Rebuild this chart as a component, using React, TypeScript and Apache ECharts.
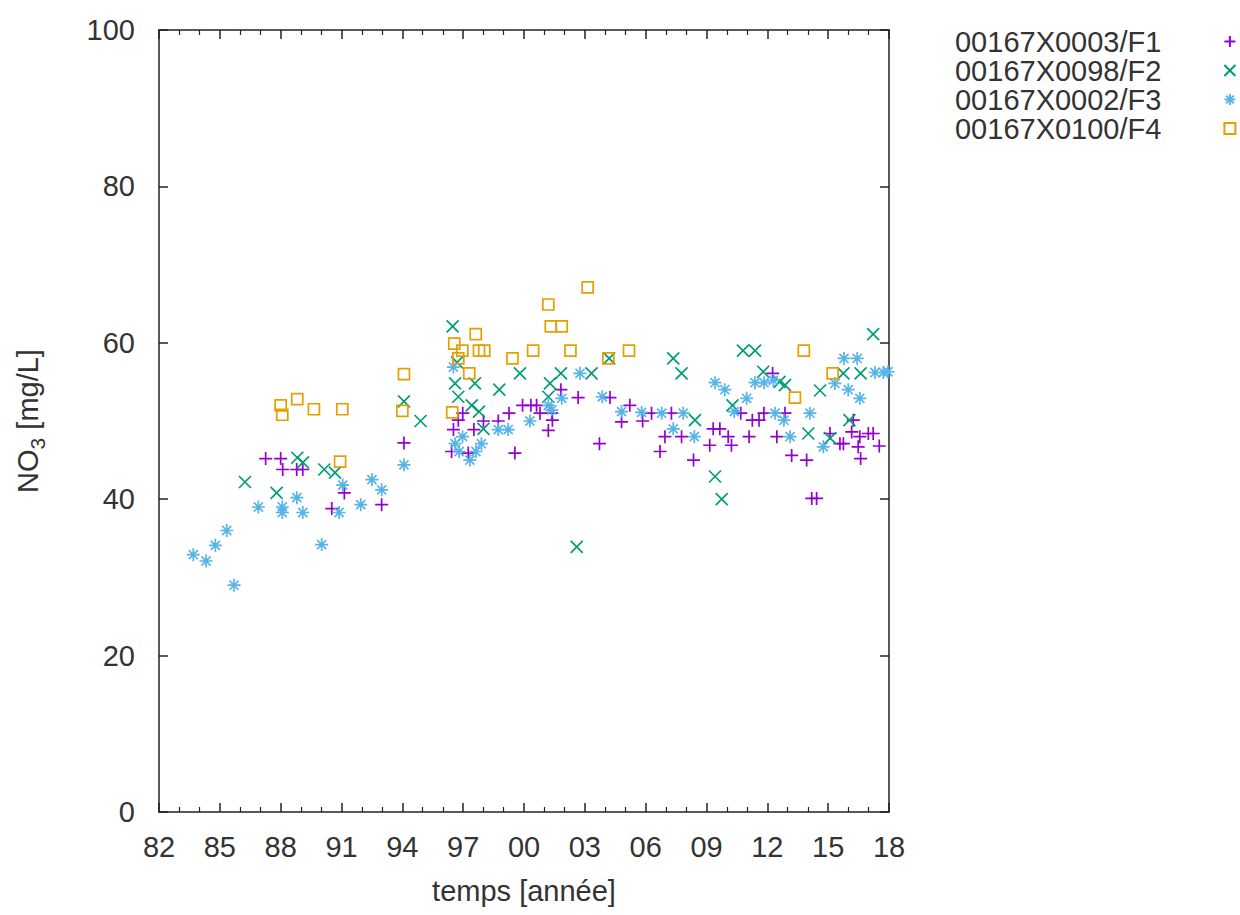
import React, { useEffect, useRef } from "react";
import * as echarts from "echarts";

const baseYear = 1982;
const xTickLabels = ["82", "85", "88", "91", "94", "97", "00", "03", "06", "09", "12", "15", "18"];
const seriesNames = ["00167X0003/F1", "00167X0098/F2", "00167X0002/F3", "00167X0100/F4"];

// [decimal year, NO3 mg/L]
const f1: [number, number][] = [
  [1987.26, 45.2], [1988.0, 45.2], [1988.1, 43.8], [1988.79, 43.8], [1989.09, 43.8], [1990.52, 38.8],
  [1991.14, 40.8], [1992.98, 39.3], [1994.08, 47.2],
  [1996.43, 46.1], [1996.52, 48.9], [1996.76, 50.1], [1996.98, 51.0], [1997.25, 45.9], [1997.53, 48.9],
  [1998.0, 50.0], [1998.73, 50.0], [1999.26, 51.0], [1999.55, 45.9], [1999.93, 52.0], [2000.34, 52.0],
  [2000.62, 52.0], [2000.79, 51.0], [2001.2, 48.8], [2001.37, 51.0], [2001.4, 50.1], [2001.82, 54.0],
  [2002.67, 53.0], [2003.72, 47.1], [2004.24, 53.0], [2004.81, 49.9], [2005.22, 52.0], [2005.85, 50.0],
  [2006.29, 51.0], [2007.27, 51.0], [2006.95, 48.0], [2007.77, 48.0], [2006.71, 46.1], [2008.36, 45.0],
  [2009.33, 49.0], [2009.66, 49.0], [2010.07, 48.0], [2010.23, 46.9], [2009.16, 46.9], [2010.69, 51.0],
  [2011.26, 50.1], [2011.59, 50.1], [2011.83, 51.0], [2011.1, 48.0], [2012.26, 56.1], [2012.47, 48.0],
  [2012.87, 51.0], [2013.2, 45.6], [2013.94, 45.0], [2014.19, 40.1], [2014.43, 40.1], [2015.09, 48.4],
  [2015.58, 47.1], [2015.75, 47.1], [2016.24, 50.1], [2016.16, 48.6], [2016.56, 48.0], [2016.48, 46.7],
  [2016.6, 45.2], [2016.98, 48.4], [2017.22, 48.4], [2017.52, 46.8],
];

const f2: [number, number][] = [
  [1986.24, 42.2], [1987.8, 40.8], [1988.82, 45.3], [1989.1, 44.7], [1990.15, 43.8], [1990.68, 43.4],
  [1994.08, 52.5], [1994.9, 50.0],
  [1996.48, 62.1], [1996.6, 54.8], [1996.76, 53.1], [1996.7, 57.5], [1997.42, 52.0], [1997.58, 54.8],
  [1997.78, 51.2], [1998.0, 49.0], [1998.78, 54.0], [1999.8, 56.1], [2001.2, 53.1], [2001.28, 54.8],
  [2001.82, 56.1], [2002.6, 33.9], [2003.33, 56.1], [2004.2, 58.0],
  [2007.36, 58.0], [2007.77, 56.1], [2008.43, 50.1], [2009.42, 42.9], [2009.75, 40.0], [2010.28, 52.0],
  [2010.8, 59.0], [2011.39, 59.0], [2011.8, 56.3], [2012.6, 55.0], [2012.87, 54.6], [2014.02, 48.4],
  [2014.6, 53.9], [2015.1, 47.8], [2015.75, 56.1], [2016.05, 50.1], [2016.6, 56.1], [2017.22, 61.1],
];

const f3: [number, number][] = [
  [1983.69, 32.9], [1984.32, 32.1], [1984.78, 34.1], [1985.34, 36.0], [1985.7, 29.0], [1986.9, 39.0],
  [1988.08, 39.0], [1988.08, 38.3], [1988.8, 40.2], [1989.09, 38.3], [1990.02, 34.2], [1990.88, 38.3],
  [1991.06, 41.8], [1991.95, 39.3], [1992.5, 42.5], [1992.98, 41.2], [1994.08, 44.4],
  [1996.52, 56.9], [1996.6, 47.1], [1996.8, 46.1], [1996.97, 48.0], [1997.33, 45.0], [1997.63, 46.1],
  [1997.9, 47.1], [1998.73, 48.9], [1999.22, 48.9], [2000.29, 50.0], [2001.2, 52.0], [2001.37, 51.4],
  [2001.86, 52.9], [2002.76, 56.1], [2003.86, 53.1], [2004.81, 51.2], [2005.8, 51.1],
  [2006.79, 51.0], [2007.85, 51.0], [2007.36, 49.0], [2008.4, 48.0], [2009.42, 54.9], [2009.9, 54.0],
  [2010.37, 51.2], [2010.98, 52.9], [2011.39, 54.9], [2011.84, 54.9], [2012.3, 55.2], [2012.38, 51.0],
  [2012.82, 50.1], [2013.12, 48.0], [2014.1, 51.0], [2014.76, 46.7], [2015.33, 54.8], [2015.78, 58.0],
  [2016.43, 58.0], [2015.99, 54.0], [2016.56, 52.9], [2017.31, 56.2], [2017.72, 56.2], [2017.95, 56.3],
];

const f4: [number, number][] = [
  [1988.0, 52.0], [1988.08, 50.8], [1988.82, 52.8], [1989.64, 51.5], [1991.04, 51.5], [1990.93, 44.8],
  [1994.08, 56.0], [1994.0, 51.3],
  [1996.46, 51.1], [1996.56, 59.9], [1996.76, 58.0], [1996.96, 59.0], [1997.3, 56.1], [1997.62, 61.1],
  [1997.78, 59.0], [1998.04, 59.0], [1999.43, 58.0], [2000.45, 59.0], [2001.2, 64.9], [2001.32, 62.1],
  [2001.86, 62.1], [2002.29, 59.0], [2003.14, 67.1], [2004.16, 58.0], [2005.18, 59.0],
  [2013.36, 53.0], [2013.8, 59.0], [2015.22, 56.1],
];

const FONT = "'Liberation Sans', Arial, sans-serif";
const TEXT = "#333";
const AXIS = "#222";

const colors = ["#9400D3", "#009E73", "#56B4E9", "#E69F00"];
const symbols = [
  "path://M0,5L10,5M5,0L5,10",
  "path://M0,0L10,10M10,0L0,10",
  "path://M0,5L10,5M5,0L5,10M1.5,1.5L8.5,8.5M8.5,1.5L1.5,8.5",
  "rect",
];
const sizes = [13, 12, 13, 11];
const datasets = [f1, f2, f3, f4];

export default function App() {
  const ref = useRef<HTMLDivElement>(null);
  useEffect(() => {
    if (!ref.current) return;
    const chart = echarts.init(ref.current, null, { renderer: "svg" });
    const xAxisCommon = {
      type: "value",
      min: 0,
      max: 36,
      interval: 3,
      axisLine: { show: true, onZero: false, lineStyle: { color: AXIS, width: 1.5 } },
      axisTick: { show: true, inside: true, length: 9, lineStyle: { color: AXIS, width: 1.5 } },
      minorTick: { show: true, splitNumber: 3, length: 5, lineStyle: { color: AXIS, width: 1.2 } },
      splitLine: { show: false },
    };
    const yAxisCommon = {
      type: "value",
      min: 0,
      max: 100,
      interval: 20,
      axisLine: { show: true, onZero: false, lineStyle: { color: AXIS, width: 1.5 } },
      axisTick: { show: true, inside: true, length: 9, lineStyle: { color: AXIS, width: 1.5 } },
      splitLine: { show: false },
    };
    chart.setOption({
      animation: false,
      backgroundColor: "#fff",
      grid: { left: 159, top: 30, right: 351, bottom: 103, containLabel: false },
      legend: {
        orient: "vertical",
        left: 950,
        top: 22,
        align: "right",
        itemGap: 0,
        itemWidth: 11,
        itemHeight: 11,
        selectedMode: false,
        data: seriesNames,
        textStyle: {
          fontFamily: FONT,
          fontSize: 29,
          lineHeight: 29,
          color: TEXT,
          padding: [0, 58, 0, 0],
        },
      },
      xAxis: [
        {
          ...xAxisCommon,
          position: "bottom",
          name: "temps [année]",
          nameLocation: "middle",
          nameGap: 64,
          nameTextStyle: { fontFamily: FONT, fontSize: 29, color: TEXT },
          axisLabel: {
            show: true,
            margin: 20,
            fontFamily: FONT,
            fontSize: 29,
            color: TEXT,
            formatter: (v: number) => xTickLabels[Math.round(v / 3)] ?? "",
          },
        },
        { ...xAxisCommon, position: "top", axisLabel: { show: false } },
      ],
      yAxis: [
        {
          ...yAxisCommon,
          position: "left",
          name: "{a|NO}{b|3}{a| [mg/L]}",
          nameLocation: "middle",
          nameRotate: 90,
          nameGap: 116,
          nameTextStyle: {
            fontFamily: FONT,
            fontSize: 29,
            color: TEXT,
            rich: {
              a: { fontFamily: FONT, fontSize: 29, color: TEXT, lineHeight: 30, verticalAlign: "top" },
              b: { fontFamily: FONT, fontSize: 21, color: TEXT, lineHeight: 22, padding: [14, 0, 0, 0], verticalAlign: "top" },
            },
          },
          axisLabel: { show: true, margin: 24, fontFamily: FONT, fontSize: 29, color: TEXT },
        },
        { ...yAxisCommon, position: "right", axisLabel: { show: false } },
      ],
      series: datasets.map((d, i) => ({
        name: seriesNames[i],
        type: "scatter",
        xAxisIndex: 0,
        yAxisIndex: 0,
        symbol: symbols[i],
        symbolSize: sizes[i],
        symbolKeepAspect: true,
        itemStyle: { color: "transparent", borderColor: colors[i], borderWidth: 1.7, opacity: 1 },
        emphasis: { disabled: true },
        data: d.map(([yr, v]) => [yr - baseYear, v]),
      })),
    });
    return () => chart.dispose();
  }, []);
  return (
    <div
      ref={ref}
      style={{ position: "absolute", left: 0, top: 0, width: 1240, height: 915 }}
    />
  );
}
